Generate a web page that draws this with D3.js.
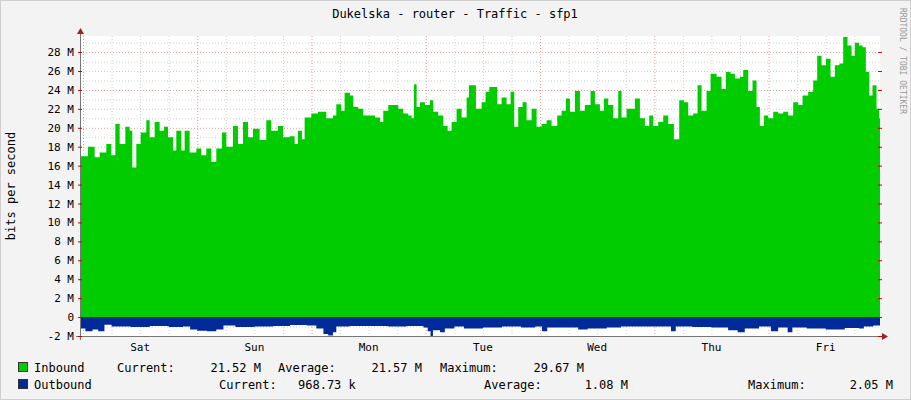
<!DOCTYPE html>
<html><head><meta charset="utf-8">
<script src="https://cdn.jsdelivr.net/npm/d3@7/dist/d3.min.js"></script>
<style>body{margin:0;background:#f3f3f3}text{font-family:"DejaVu Sans Mono",monospace;fill:#000}</style>
</head><body><svg id="chart" width="911" height="400"></svg>
<script>
// hours since Saturday 00:00, values in Mbit/s
const inHours = [-0.63,-0.49,1.05,2.45,3.5,4.9,5.95,6.79,7.7,8.89,9.8,10.36,11.2,12.11,13.3,14,15.05,16.1,17.01,17.85,18.9,19.6,20.65,21.35,22.4,23.8,24.85,25.9,26.95,28,29.19,30.1,31.5,32.55,33.6,34.65,35.7,37.1,38.5,39.55,40.95,42,43.4,44.45,45.15,45.99,46.55,47.95,49.35,51.1,52.5,53.2,54.25,54.95,
 56.07,56.77,57.82,58.87,59.92,61.32,62.37,63.07,64.12,65.17,66.22,67.27,68.32,69.02,69.51,70.07,70.77,71.82,72.87,73.57,74.62,75.67,76.58,77.42,78.47,79.52,80.57,81.06,81.76,82.53,83.72,84.56,85.33,86.17,87.01,87.92,88.97,89.81,90.58,91.42,92.33,93.17,94.22,95.27,96.32,97.37,98.42,99.61,100.52,101.43,102.27,103.32,104.37,105.42,106.61,107.52,108.57,109.41,110.32,111.37,112.42,113.12,114.17,
 114.87,115.92,116.97,118.02,118.93,119.77,120.82,121.87,122.92,124.11,125.23,126.21,127.12,128.17,129.08,129.92,130.97,131.81,133.07,134.12,135.03,136.01,136.92,137.97,138.67,139.72,140.63,141.47,142.17,143.01,143.92,144.97,146.02,147.07,148.12,149.17,150.22,151.13,152.32,153.37,154.21,155.12,156.03,157.01,157.92,158.87,159.67,160.58,161.42,162.12,163.03,163.73,164.43,165.13,165.83,166.67,167.23,167.4];
const inbound = [17.0,17.0,18.0,16.9,17.4,18.3,17.1,20.4,18.3,20.1,19.7,15.8,18.3,19.5,20.8,19.0,20.6,19.7,20.1,19.0,17.6,19.7,17.6,19.7,17.4,17.8,17.1,17.8,16.4,17.8,19.5,18.0,20.2,18.3,20.6,19.0,19.9,18.7,20.8,19.7,20.2,19.0,19.1,18.3,19.7,18.8,21.1,21.5,21.7,21.0,21.3,22.5,21.8,23.7,
 23.4,22.2,22.0,21.3,21.3,21.1,20.6,21.8,22.4,22.4,22.0,21.5,21.3,21.0,24.6,22.2,22.7,22.4,22.9,21.7,21.3,20.2,19.7,20.6,22.0,21.1,23.2,24.5,24.5,22.0,22.7,23.8,24.3,24.3,22.5,23.2,22.5,23.8,20.1,22.2,22.7,20.8,22.0,20.1,20.4,20.8,20.2,21.3,21.8,23.1,21.7,23.9,21.8,22.4,23.9,22.5,21.8,23.1,22.4,21.0,23.9,21.1,22.0,
 22.0,23.1,21.0,20.2,21.3,20.2,20.6,21.3,20.4,18.8,22.9,22.7,21.3,21.5,24.5,21.8,23.9,25.7,25.4,24.1,25.9,25.7,25.2,25.4,26.1,23.9,25.0,22.2,20.2,21.3,21.0,21.7,21.5,21.7,21.3,22.7,22.4,23.4,23.8,25.0,27.6,26.6,27.3,25.4,26.6,26.8,29.6,28.7,27.6,29.0,28.7,28.5,25.9,23.4,24.5,22.0,21.0,21.0];
const outHours = [-0.63,0.5,2,3.2,4.5,6,10,14,18,21,22.5,24,26,28,29.5,32,36,40,43.5,47,49,50.5,51.5,52.5,53.2,56,60,64,68,71.5,72.4,73,73.5,75,76,78,80,84,88,92,95,96.4,97.5,100,104,106,110,113,116,120,123.5,124.5,128,132,135.5,137.5,139,142,144.5,146,148,149,152,156,160,163,164,166,167.4];
const outbound = [-1.2,-1.5,-1.3,-1.5,-0.8,-1.0,-1.05,-0.95,-1.05,-1.0,-1.3,-1.45,-1.5,-1.3,-0.9,-1.05,-1.0,-0.95,-0.85,-0.9,-1.2,-1.8,-1.95,-1.6,-1.0,-0.95,-0.95,-1.0,-0.95,-1.1,-1.5,-2.05,-1.4,-1.6,-1.2,-1.0,-1.2,-1.1,-1.0,-1.1,-1.0,-1.5,-1.1,-1.1,-1.3,-1.2,-1.1,-1.0,-1.0,-1.0,-1.5,-1.0,-1.05,-1.1,-1.4,-1.6,-1.2,-1.0,-1.5,-1.1,-1.6,-1.1,-1.2,-1.3,-1.15,-1.2,-1.0,-0.9,-0.9];
const days = ["Sat","Sun","Mon","Tue","Wed","Thu","Fri"];
const yTicks = [-2,0,2,4,6,8,10,12,14,16,18,20,22,24,26,28];

const svg = d3.select("#chart");
const L = 80, R = 880, T = 36, B = 336;
const x = d3.scaleLinear().domain([-0.63, 167.4]).range([L, R]);
const y = d3.scaleLinear().domain([-2, 29.7]).range([B, T]);

svg.append("rect").attr("x",0.5).attr("y",0.5).attr("width",910).attr("height",399)
  .attr("fill","#f3f3f3").attr("stroke","#cfcfcf");
svg.append("rect").attr("x",L).attr("y",T).attr("width",R-L).attr("height",B-T).attr("fill","#fff");

// grid
for (let v = -2; v <= 29; v++) {
  svg.append("line").attr("x1",L).attr("x2",R).attr("y1",y(v)+0.5).attr("y2",y(v)+0.5)
    .attr("stroke", v % 4 === 0 && v > 0 ? "#e8a0a0" : "#d0d0d0").attr("stroke-dasharray","1,2");
}
for (let h = 0; h < 168; h += 6) {
  svg.append("line").attr("x1",x(h)+0.5).attr("x2",x(h)+0.5).attr("y1",T).attr("y2",B)
    .attr("stroke", h % 24 === 0 ? "#eb9a9a" : "#d0d0d0").attr("stroke-dasharray","1,2");
}

// areas
const area = d3.area().x((d,i)=>x(d[0])).y0(y(0)).y1(d=>y(d[1])).curve(d3.curveStepAfter);
svg.append("path").datum(d3.zip(inHours, inbound)).attr("d", area).attr("fill","#00cc00");
svg.append("path").datum(d3.zip(outHours, outbound)).attr("d", area).attr("fill","#002a97");

// axes
svg.append("line").attr("x1",L+0.5).attr("x2",L+0.5).attr("y1",B+4).attr("y2",T-4).attr("stroke","#777");
svg.append("line").attr("x1",L-4).attr("x2",R+4).attr("y1",B+0.5).attr("y2",B+0.5).attr("stroke","#777");
svg.append("path").attr("d",`M${L-3},${T-2}L${L+0.5},${T-8}L${L+4},${T-2}Z`).attr("fill","#a02020");
svg.append("path").attr("d",`M${R+2},${B-3}L${R+8},${B+0.5}L${R+2},${B+4}Z`).attr("fill","#a02020");

yTicks.forEach(v => {
  svg.append("line").attr("x1",L-2).attr("x2",L+2).attr("y1",y(v)+0.5).attr("y2",y(v)+0.5).attr("stroke","#c00");
  svg.append("line").attr("x1",R-2).attr("x2",R+2).attr("y1",y(v)+0.5).attr("y2",y(v)+0.5).attr("stroke","#c00");
  svg.append("text").attr("x",74).attr("y",y(v)+4).attr("text-anchor","end").style("font-size","11px")
    .text(v === 0 ? "0" : v + " M");
});
days.forEach((d,i) => {
  svg.append("text").attr("x",x(i*24+12)).attr("y",351).attr("text-anchor","middle").style("font-size","11px").text(d);
});

svg.append("text").attr("x",455).attr("y",18).attr("text-anchor","middle").style("font-size","12px")
  .text("Dukelska - router - Traffic - sfp1");
svg.append("text").attr("transform","translate(15,186) rotate(-90)").attr("text-anchor","middle")
  .style("font-size","12px").text("bits per second");
svg.append("text").attr("transform","translate(900,8) rotate(90)").style("font-size","8px")
  .style("fill","#999").text("RRDTOOL / TOBI OETIKER");

// legend
const leg = [
  [372, [["Inbound",34,"start"],["Current:",117,"start"],["21.52 M",261,"end"],["Average:",278,"start"],["21.57 M",422,"end"],["Maximum:",440,"start"],["29.67 M",584,"end"]], "#00cc00"],
  [389, [["Outbound",34,"start"],["Current:",219,"start"],["968.73 k",298,"start"],["Average:",484,"start"],["1.08 M",628,"end"],["Maximum:",748,"start"],["2.05 M",893,"end"]], "#002a97"]
];
leg.forEach(([ty, items, c]) => {
  svg.append("rect").attr("x",18.5).attr("y",ty-9.5).attr("width",9).attr("height",9).attr("fill",c).attr("stroke","#333");
  items.forEach(([t,tx,a]) => svg.append("text").attr("x",tx).attr("y",ty).attr("text-anchor",a).style("font-size","12px").text(t));
});
</script></body></html>
